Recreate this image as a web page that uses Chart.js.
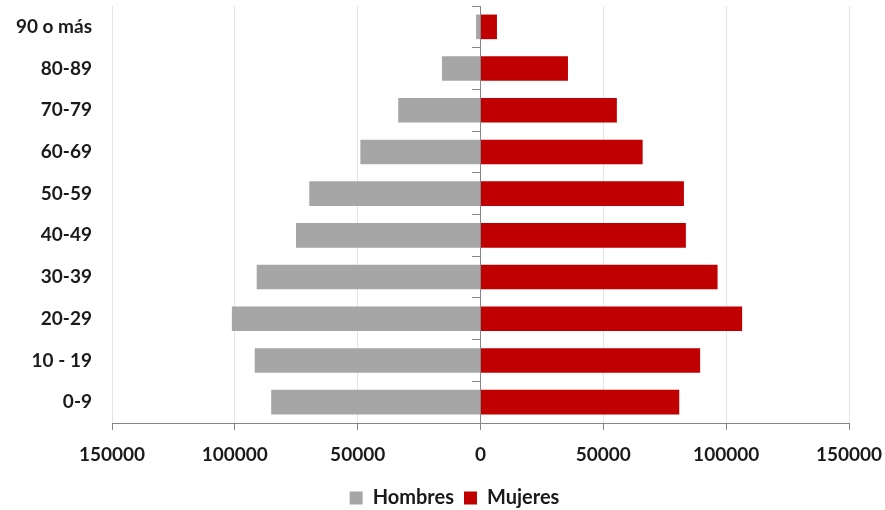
<!DOCTYPE html>
<html>
<head>
<meta charset="utf-8">
<script src="https://cdn.jsdelivr.net/npm/chart.js@4/dist/chart.umd.min.js"></script>
<style>
  html, body { margin: 0; padding: 0; background: #ffffff; overflow: hidden; }
  #wrap { width: 885px; height: 510px; overflow: hidden; }
</style>
</head>
<body>
<div id="wrap"><canvas id="pyramid" width="885" height="518"></canvas></div>
<script>
// Age groups, oldest at the top
const ageGroups = ['90 o más', '80-89', '70-79', '60-69', '50-59', '40-49', '30-39', '20-29', '10 - 19', '0-9'];

// Men plotted to the left of zero (negative values), women to the right
const hombres = [-1800, -15700, -33500, -48900, -69700, -75100, -91100, -101200, -91900, -85200];
const mujeres = [6700, 35600, 55500, 66000, 82800, 83600, 96500, 106500, 89400, 80900];

const xTicks = [-150000, -100000, -50000, 0, 50000, 100000, 150000];

const FONT = "Lato, 'Open Sans', sans-serif";
const AXIS_GREY = '#868686';

// nudge the legend a little to the right of the canvas centre
const legendShift = {
  id: 'legendShift',
  afterLayout(chart) {
    const lg = chart.legend;
    if (lg) { lg.left += 12; lg.right += 12; }
  }
};

new Chart(document.getElementById('pyramid'), {
  type: 'bar',
  data: {
    labels: ageGroups,
    datasets: [
      { label: 'Hombres', data: hombres, backgroundColor: '#a6a6a6', borderWidth: 0,
        barPercentage: 0.59, categoryPercentage: 1 },
      { label: 'Mujeres', data: mujeres, backgroundColor: '#c00000', borderWidth: 0,
        barPercentage: 0.59, categoryPercentage: 1 }
    ]
  },
  plugins: [legendShift],
  options: {
    indexAxis: 'y',
    responsive: false,
    animation: false,
    layout: { padding: { top: 6, right: 0, left: 0, bottom: 0 } },
    plugins: {
      tooltip: { enabled: false },
      legend: {
        position: 'bottom',
        labels: {
          boxWidth: 13, boxHeight: 13, padding: 10,
          color: '#1a1a1a',
          font: { family: FONT, size: 20, weight: 'bold' }
        }
      }
    },
    scales: {
      x: {
        stacked: true,
        min: -150000, max: 150000,
        afterBuildTicks: s => { s.ticks = xTicks.map(v => ({ value: v })); },
        afterFit: s => { s.height = 55; s.paddingRight = 36; s.paddingLeft = 0; },
        grid: { color: '#e4e4e4', tickColor: AXIS_GREY, tickLength: 7 },
        border: { display: true, color: AXIS_GREY, width: 1 },
        ticks: {
          padding: 13,
          color: '#1a1a1a',
          font: { family: FONT, size: 19, weight: 'bold' },
          maxRotation: 0,
          callback: v => String(Math.abs(v))
        }
      },
      y: {
        stacked: true,
        grid: { display: false, drawTicks: false },
        border: { display: false },
        afterFit: s => { s.width = 112; s.paddingTop = 0; s.paddingBottom = 0; },
        ticks: {
          padding: 20,
          color: '#1a1a1a',
          font: { family: FONT, size: 19, weight: 'bold' }
        }
      },
      // central vertical axis at x = 0 with tick marks between age groups
      center: {
        type: 'category',
        axis: 'y',
        labels: ageGroups,
        position: { x: 0 },
        offset: true,
        afterFit: s => { s.paddingTop = 0; s.paddingBottom = 0; },
        grid: { offset: true, drawOnChartArea: false, color: AXIS_GREY, tickLength: 8 },
        border: { display: true, color: AXIS_GREY, width: 1 },
        ticks: { display: false }
      }
    }
  }
});
</script>
</body>
</html>
